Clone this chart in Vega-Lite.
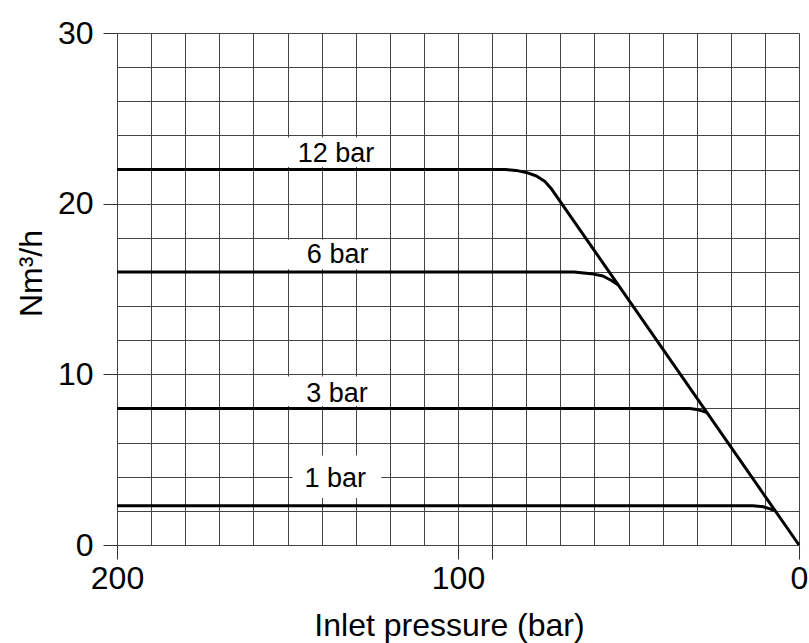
{
  "$schema": "https://vega.github.io/schema/vega-lite/v6.json",
  "width": 682,
  "height": 512,
  "autosize": {"type": "none"},
  "padding": {"left": 117, "top": 33, "right": 10, "bottom": 98},
  "background": "white",
  "config": {
    "view": {"stroke": null},
    "font": "Liberation Sans",
    "axis": {"domain": false, "gridColor": "#444", "gridWidth": 1, "gridOpacity": 1, "tickColor": "#333", "tickWidth": 1, "labelColor": "black", "titleColor": "black", "labelFont": "Liberation Sans", "titleFont": "Liberation Sans", "labelFontSize": 32, "titleFontSize": 32, "titleFontWeight": "normal", "labelOverlap": false, "labelFlush": false}
  },
  "datasets": {
    "curves": [
      {"series": "12 bar", "p": 0, "q": 0},
      {"series": "12 bar", "p": 72.5, "q": 20.84},
      {"series": "12 bar", "p": 74.5, "q": 21.3},
      {"series": "12 bar", "p": 77, "q": 21.62},
      {"series": "12 bar", "p": 80, "q": 21.83},
      {"series": "12 bar", "p": 83, "q": 21.95},
      {"series": "12 bar", "p": 86, "q": 22},
      {"series": "12 bar", "p": 200, "q": 22},
      {"series": "6 bar", "p": 53, "q": 15.24},
      {"series": "6 bar", "p": 55, "q": 15.5},
      {"series": "6 bar", "p": 57.5, "q": 15.76},
      {"series": "6 bar", "p": 61, "q": 15.9},
      {"series": "6 bar", "p": 66, "q": 16},
      {"series": "6 bar", "p": 200, "q": 16},
      {"series": "3 bar", "p": 27, "q": 7.76},
      {"series": "3 bar", "p": 28.5, "q": 7.86},
      {"series": "3 bar", "p": 30, "q": 7.94},
      {"series": "3 bar", "p": 32, "q": 8},
      {"series": "3 bar", "p": 200, "q": 8},
      {"series": "1 bar", "p": 7, "q": 2.01},
      {"series": "1 bar", "p": 8.5, "q": 2.12},
      {"series": "1 bar", "p": 10.5, "q": 2.24},
      {"series": "1 bar", "p": 13.5, "q": 2.3},
      {"series": "1 bar", "p": 200, "q": 2.3}
    ],
    "labels": [
      {"label": "12 bar", "p": 135.8, "q": 22.42, "p1": 150, "p2": 122, "q1": 22.15, "q2": 23.88},
      {"label": "6 bar", "p": 135.3, "q": 16.52, "p1": 150, "p2": 122, "q1": 16.15, "q2": 17.88},
      {"label": "3 bar", "p": 135.5, "q": 8.38, "p1": 150, "p2": 122, "q1": 8.15, "q2": 9.88},
      {"label": "1 bar", "p": 136, "q": 3.4, "p1": 148.5, "p2": 122.5, "q1": 2.75, "q2": 5.25}
    ]
  },
  "encoding": {
    "x": {
      "field": "p", "type": "quantitative",
      "scale": {"domain": [0, 200], "reverse": true, "nice": false, "zero": false},
      "axis": {
        "values": [0, 10, 20, 30, 40, 50, 60, 70, 80, 90, 100, 110, 120, 130, 140, 150, 160, 170, 180, 190, 200],
        "grid": true,
        "tickSize": 14,
        "tickOpacity": {"condition": {"test": "datum.value == 0 || datum.value == 90 || datum.value == 100 || datum.value == 200", "value": 1}, "value": 0},
        "labelExpr": "datum.value == 0 || datum.value == 100 || datum.value == 200 ? datum.label : ''",
        "labelPadding": 4,
        "title": "Inlet pressure (bar)",
        "titleX": 332,
        "titleY": 90,
        "titleBaseline": "alphabetic"
      }
    },
    "y": {
      "field": "q", "type": "quantitative",
      "scale": {"domain": [0, 30], "nice": false, "zero": false},
      "axis": {
        "values": [0, 2, 4, 6, 8, 10, 12, 14, 16, 18, 20, 22, 24, 26, 28, 30],
        "grid": true,
        "tickSize": 14,
        "tickOpacity": {"condition": {"test": "datum.value == 0 || datum.value == 10 || datum.value == 20 || datum.value == 30", "value": 1}, "value": 0},
        "labelExpr": "datum.value % 10 == 0 ? datum.label : ''",
        "labelPadding": 10,
        "title": "Nm³/h",
        "titleAngle": -90,
        "titleX": -76,
        "titleY": 240,
        "titleBaseline": "alphabetic",
        "titleAlign": "center"
      }
    }
  },
  "layer": [
    {
      "data": {"name": "labels"},
      "mark": {"type": "rect", "color": "white", "stroke": null},
      "encoding": {
        "x": {"field": "p1", "type": "quantitative"},
        "x2": {"field": "p2"},
        "y": {"field": "q1", "type": "quantitative"},
        "y2": {"field": "q2"}
      }
    },
    {
      "data": {"name": "curves"},
      "mark": {"type": "line", "color": "black", "strokeWidth": 3, "strokeJoin": "round", "strokeCap": "butt"},
      "encoding": {
        "detail": {"field": "series"}
      }
    },
    {
      "data": {"name": "labels"},
      "mark": {"type": "text", "font": "Liberation Sans", "fontSize": 27, "color": "black", "align": "center", "baseline": "alphabetic"},
      "encoding": {
        "text": {"field": "label"}
      }
    }
  ]
}
